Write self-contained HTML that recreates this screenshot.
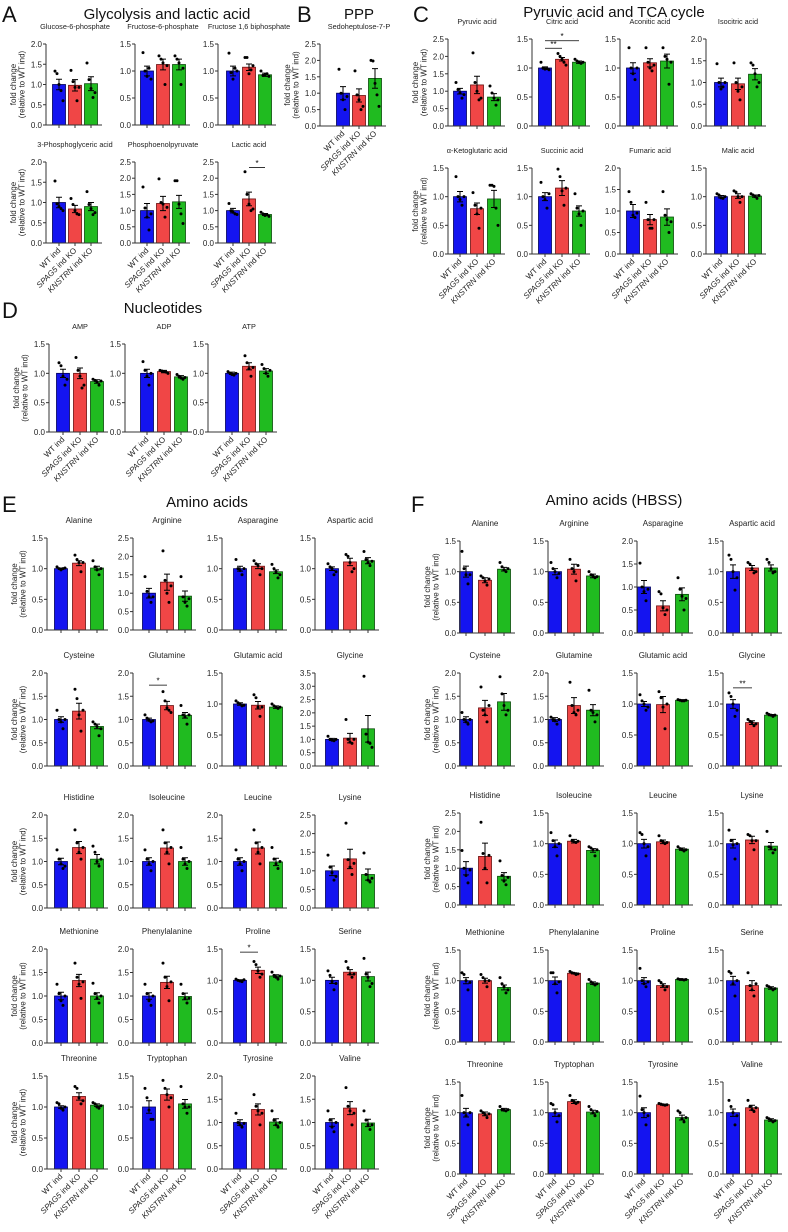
<!DOCTYPE html>
<html><head><meta charset="utf-8">
<style>
html,body{margin:0;padding:0;background:#fff;}
svg{display:block;font-family:"Liberation Sans",Arial,sans-serif;}
</style></head>
<body>
<svg id="fig" width="788" height="1232" viewBox="0 0 788 1232" xmlns="http://www.w3.org/2000/svg">
<g fill="#111">
<text x="2" y="22" font-size="22">A</text>
<text x="167" y="19" font-size="15" text-anchor="middle">Glycolysis and lactic acid</text>
<text x="297" y="22" font-size="22">B</text>
<text x="359" y="19" font-size="15" text-anchor="middle">PPP</text>
<text x="413" y="22" font-size="22">C</text>
<text x="614" y="17" font-size="15" text-anchor="middle">Pyruvic acid and TCA cycle</text>
<text x="2" y="318" font-size="22">D</text>
<text x="163" y="313" font-size="15" text-anchor="middle">Nucleotides</text>
<text x="2" y="512" font-size="22">E</text>
<text x="207" y="507" font-size="15" text-anchor="middle">Amino acids</text>
<text x="411" y="512" font-size="22">F</text>
<text x="614" y="505" font-size="15" text-anchor="middle">Amino acids (HBSS)</text>
</g>
</svg>
<script>
// ---- data ----
const groups = ["WT ind", "SPAG5 ind KO", "KNSTRN ind KO"];
const titles = ["Glucose-6-phosphate","Fructose-6-phosphate","Fructose 1,6 biphosphate","3-Phosphoglyceric acid","Phosphoenolpyruvate","Lactic acid",
"Sedoheptulose-7-P",
"Pyruvic acid","Citric acid","Aconitic acid","Isocitric acid","\u03b1-Ketoglutaric acid","Succinic acid","Fumaric acid","Malic acid",
"AMP","ADP","ATP",
"Alanine","Arginine","Asparagine","Aspartic acid","Cysteine","Glutamine","Glutamic acid","Glycine","Histidine","Isoleucine","Leucine","Lysine","Methionine","Phenylalanine","Proline","Serine","Threonine","Tryptophan","Tyrosine","Valine",
"Alanine","Arginine","Asparagine","Aspartic acid","Cysteine","Glutamine","Glutamic acid","Glycine","Histidine","Isoleucine","Leucine","Lysine","Methionine","Phenylalanine","Proline","Serine","Threonine","Tryptophan","Tyrosine","Valine"];
const yMax = [2,1.5,1.5,2,2.5,2.5, 2.5, 2.5,1.5,1.5,2,1.5,1.5,2,1.5, 1.5,1.5,1.5,
1.5,2.5,1.5,1.5, 2,2,1.5,3.5, 2,2,2,2.5, 2,2,1.5,1.5, 1.5,1.5,2,2,
1.5,1.5,2,1.5, 2,2,1.5,1.5, 2.5,1.5,1.5,1.5, 1.5,1.5,1.5,1.5, 1.5,1.5,1.5,1.5];
const means = [[1,.98,1.02],[1,1.12,1.12],[1,1.07,.93],[1,.84,.9],[1,1.22,1.27],[1,1.36,.88],
[1,.93,1.45],
[1,1.18,.83],[1,1.15,1.1],[1,1.09,1.12],[1,.97,1.19],[1,.79,.96],[1,1.15,.75],[1,.8,.86],[1,1.01,1.01],
[1,1,.86],[1,1.03,.94],[1,1.12,1.04],
[1,1.09,1.01],[1,1.3,.92],[1,1.04,.95],[1,1.11,1.13],[1,1.18,.85],[1,1.3,1.09],[1,.98,.95],[1,1.05,1.4],
[1,1.3,1.05],[1,1.29,1.0],[1,1.29,.99],[1,1.32,.9],[1,1.33,1.0],[1,1.29,.99],[1,1.16,1.07],[1,1.13,1.06],
[1,1.17,1.03],[1,1.2,1.05],[1,1.28,1.01],[1,1.31,.99],
[1,.86,1.04],[1,1.04,.93],[1,.59,.84],[1,1.06,1.06],[1,1.25,1.38],[1,1.3,1.2],[1,.99,1.06],[1,.7,.82],
[1,1.32,.78],[1,1.04,.89],[1,1.03,.91],[1,1.06,.96],[1,1.0,.89],[1,1.12,.96],[1,.92,1.02],[1,.92,.88],
[1,.98,1.05],[1,1.18,1.01],[1,1.13,.92],[1,1.08,.88]];
const sems = [[.13,.14,.17],[.09,.1,.1],[.09,.06,.03],[.13,.09,.1],[.22,.22,.2],[.07,.21,.03],
[.2,.2,.3],
[.08,.25,.1],[.02,.03,.02],[.09,.07,.12],[.1,.13,.13],[.09,.1,.15],[.07,.13,.09],[.15,.12,.19],[.02,.04,.02],
[.07,.09,.03],[.07,.02,.02],[.02,.06,.04],
[.01,.04,.03],[.13,.22,.14],[.04,.04,.03],[.03,.06,.05],[.06,.17,.05],[.03,.09,.06],[.02,.06,.02],[.04,.18,.5],
[.07,.13,.1],[.08,.13,.08],[.08,.13,.08],[.13,.26,.15],[.08,.13,.07],[.07,.13,.07],[.01,.05,.02],[.05,.04,.07],
[.02,.06,.02],[.1,.09,.07],[.06,.12,.07],[.08,.14,.08],
[.09,.04,.03],[.05,.08,.03],[.14,.11,.14],[.11,.04,.05],[.06,.16,.18],[.04,.17,.12],[.04,.13,.01],[.07,.03,.01],
[.18,.36,.1],[.06,.03,.03],[.07,.03,.02],[.07,.06,.06],[.05,.04,.04],[.06,.01,.02],[.05,.03,.01],[.07,.08,.02],
[.07,.03,.02],[.06,.03,.03],[.08,.01,.04],[.06,.04,.02]];
const dots = [
[[1.33,1.27,1.0,.85,.6],[1.35,1.07,.93,.6,.93],[1.53,1.12,.9,.68,.8]],
[[1.34,1.0,.9,1.05,.85],[1.28,1.22,1.15,.75,1.1],[1.28,1.22,1.15,.75,1.05]],
[[1.33,.97,.85,1.05,1.0],[1.25,1.25,.95,1.02,1.1],[1.0,.92,.93,.95,.9]],
[[1.53,.97,.9,.85,.8],[1.1,.95,.8,.72,.7],[1.27,.95,.85,.7,.75]],
[[1.73,1.08,.8,.4,.9],[1.98,1.25,1.2,.8,1.1],[1.92,1.92,1.2,.9,.6]],
[[1.22,1.0,.95,.9,.88],[2.2,1.5,1.2,1.0,1.05],[.95,.9,.85,.87,.82]],
[[1.73,1.0,.8,.5,.9],[1.68,.95,.8,.5,.6],[2.0,1.98,1.3,.95,.6]],
[[1.25,1.05,.95,.8,.9],[2.1,1.25,1.0,.75,.8],[1.15,.95,.8,.6,.75]],
[[1.1,1.0,.98,.99,.97],[1.25,1.2,1.15,1.1,1.05],[1.15,1.12,1.1,1.08,1.1]],
[[1.35,1.0,.9,.8,1.0],[1.35,1.1,1.0,.95,1.05],[1.35,1.2,1.15,.72,1.1]],
[[1.43,1.0,.85,.9,1.0],[1.45,1.0,.8,.6,.9],[1.45,1.4,1.2,.9,1.0]],
[[1.35,1.0,.95,.85,1.0],[1.07,.85,.7,.45,.8],[1.2,1.2,1.18,.8,.5]],
[[1.25,1.0,.95,.8,1.05],[1.48,1.35,1.1,.85,1.15],[1.05,.8,.7,.5,.75]],
[[1.45,1.2,.9,.85,.95],[1.2,.8,.6,.6,.8],[1.45,.9,.8,.5,.75]],
[[1.05,1.03,.98,.97,1.0],[1.1,1.08,1.0,.9,1.0],[1.05,1.03,1.0,.97,1.02]],
[[1.18,1.13,.95,.8,.9],[1.27,1.05,.95,.75,.8],[.9,.88,.85,.8,.87]],
[[1.2,1.05,.95,.8,1.0],[1.05,1.04,1.03,1.02,1.0],[.98,.95,.92,.9,.93]],
[[1.03,1.0,.98,.97,1.0],[1.3,1.18,1.08,.95,1.1],[1.15,1.08,1.0,.95,1.05]],
[[1.03,1.0,.98,1.0,1.01],[1.22,1.15,1.1,.95,1.1],[1.13,1.03,.98,.9,1.0]],
[[1.45,1.05,.9,.75,.9],[2.15,1.35,1.0,.75,1.2],[1.45,.9,.75,.65,.85]],
[[1.15,1.0,.97,.9,1.0],[1.13,1.08,1.05,.9,1.0],[1.07,1.0,.95,.85,.9]],
[[1.08,1.03,1.0,.9,.95],[1.23,1.2,1.1,.95,1.0],[1.28,1.15,1.1,1.05,1.12]],
[[1.2,1.0,.95,.8,1.0],[1.65,1.45,1.1,.75,1.2],[.95,.9,.85,.65,.8]],
[[1.1,1.03,.98,.95,.97],[1.6,1.4,1.25,1.2,1.15],[1.3,1.1,1.05,.9,1.1]],
[[1.05,1.02,1.0,.97,.98],[1.15,1.1,.95,.8,.95],[1.0,.97,.95,.93,.95]],
[[1.12,1.0,.97,.95,1.0],[1.75,1.0,.9,.85,1.0],[3.38,1.2,.9,.85,.7]],
[[1.25,1.05,.95,.85,.9],[1.68,1.4,1.2,1.05,1.3],[1.33,1.2,1.0,.9,1.05]],
[[1.25,1.05,.95,.8,1.0],[1.68,1.4,1.2,.95,1.3],[1.3,1.05,.95,.85,1.0]],
[[1.25,1.05,.95,.8,1.0],[1.68,1.4,1.2,.95,1.3],[1.3,1.05,.95,.85,1.0]],
[[1.42,1.1,.95,.75,.85],[2.28,1.3,1.1,.9,1.2],[1.48,.9,.75,.7,.8]],
[[1.25,1.05,.9,.8,1.0],[1.7,1.4,1.25,.95,1.3],[1.27,1.05,.95,.85,1.0]],
[[1.25,1.05,.9,.8,1.0],[1.7,1.4,1.2,.9,1.3],[1.25,1.05,.95,.85,.95]],
[[1.02,1.0,.99,.98,1.01],[1.3,1.25,1.15,1.05,1.1],[1.13,1.08,1.05,1.02,1.07]],
[[1.15,1.08,.98,.85,.95],[1.3,1.2,1.1,1.05,1.1],[1.35,1.1,1.05,.9,.95]],
[[1.07,1.05,.98,.95,1.0],[1.33,1.3,1.15,1.05,1.1],[1.07,1.05,1.0,.98,1.02]],
[[1.3,1.15,.95,.8,.8],[1.43,1.3,1.2,1.0,1.15],[1.33,1.05,1.0,.9,1.0]],
[[1.2,1.0,.95,.9,.98],[1.6,1.35,1.25,.95,1.2],[1.25,1.05,.95,.9,1.0]],
[[1.25,1.05,.9,.8,1.0],[1.75,1.35,1.25,.95,1.2],[1.25,1.05,.95,.85,.95]],
[[1.33,1.05,.95,.8,.95],[.93,.9,.85,.78,.88],[1.15,1.08,1.03,1.0,1.05]],
[[1.15,1.05,1.0,.9,.97],[1.2,1.05,1.0,.85,1.1],[1.0,.95,.93,.9,.92]],
[[1.52,1.0,.9,.7,.95],[.9,.85,.55,.4,.5],[1.2,.95,.8,.5,.75]],
[[1.27,1.2,1.0,.7,.9],[1.15,1.12,1.05,.98,1.0],[1.2,1.15,1.05,.98,1.0]],
[[1.15,1.0,.95,.9,1.0],[1.7,1.2,1.1,.95,1.3],[1.92,1.55,1.3,1.1,1.2]],
[[1.05,1.0,.97,.9,1.0],[1.8,1.3,1.15,1.1,1.2],[1.63,1.2,1.15,.95,1.1]],
[[1.15,1.05,1.0,.9,.95],[1.2,1.1,.95,.6,1.0],[1.07,1.06,1.05,1.05,1.06]],
[[1.18,1.12,1.0,.8,.9],[.75,.72,.7,.65,.68],[.85,.83,.82,.8,.82]],
[[1.48,1.0,.8,.6,.95],[2.25,1.4,1.0,.6,1.35],[1.2,.8,.65,.55,.75]],
[[1.18,1.05,.95,.8,1.0],[1.13,1.05,1.03,1.02,1.04],[.95,.93,.9,.8,.9]],
[[1.18,1.15,1.0,.8,.95],[1.13,1.05,1.03,1.0,1.02],[.95,.92,.9,.88,.9]],
[[1.22,1.05,.98,.75,1.0],[1.15,1.13,1.05,.9,1.05],[1.2,.95,.93,.85,.9]],
[[1.13,1.1,1.0,.85,.97],[1.1,1.05,1.0,.9,1.0],[1.05,.95,.9,.8,.85]],
[[1.13,1.13,.95,.8,.98],[1.15,1.13,1.12,1.1,1.11],[1.02,.98,.95,.93,.95]],
[[1.2,1.0,.95,.9,.98],[1.0,.97,.92,.85,.9],[1.03,1.02,1.02,1.01,1.02]],
[[1.15,1.12,.95,.75,1.0],[1.13,.92,.85,.75,.95],[.92,.9,.88,.85,.87]],
[[1.28,1.0,.95,.8,1.0],[1.03,1.0,.97,.92,.98],[1.1,1.05,1.04,1.03,1.05]],
[[1.15,1.13,1.0,.85,.95],[1.28,1.2,1.18,1.15,1.17],[1.1,1.05,1.0,.95,1.02]],
[[1.27,1.05,1.0,.8,.95],[1.15,1.14,1.13,1.12,1.13],[1.03,1.0,.9,.85,.92]],
[[1.2,1.1,1.0,.8,.95],[1.2,1.1,1.05,1.02,1.08],[.92,.9,.88,.85,.87]]];
// significance
const sigPanels = [5,8,8,23,32,45];
const sigFrom = [1,0,0,0,0,0];
const sigTo = [2,1,2,1,1,1];
const sigLevel = [2.33,1.34,1.47,1.74,1.45,1.26];
const sigLabel = ["*","**","*","*","*","**"];

// ---- layout (positions only) ----
const L = [];
function addRow(axes, firsts, sp, top, zero, xl, fs){ for(let i=0;i<axes.length;i++) L.push({ax:axes[i], bx:firsts[i], sp:sp, top:top, zero:zero, xl:xl, yt:i===0, fs:fs}); }
addRow([46,135,218],[59,147,233],16,44,125,false,7.3);
addRow([46,135,218],[59,147,233],16,162,243,true,7.3);
addRow([320],[343],16,44,126,true,7.3);
addRow([448,532,620,706],[460,545,633,721],17,39,126,false,7.3);
addRow([448,532,620,706],[460,545,633,721],17,168,254,true,7.3);
addRow([49,125,208],[63,147,232],17,344,432,true,7.3);
const eAx=[47,133,222,315], eB=[61,149,240,332];
[[538,630],[673,766],[815,908],[949,1043],[1076,1169]].forEach((r,k)=>addRow(eAx,eB,18,r[0],r[1],k===4,8));
const fAx=[460,548,637,723], fB=[466,555,644,733];
[[541,633],[673,766],[813,905],[950,1042],[1082,1174]].forEach((r,k)=>addRow(fAx,fB,19,r[0],r[1],k===4,8));

const NS="http://www.w3.org/2000/svg";
const svg=document.getElementById('fig');
const fills=["#1414f0","#f04646","#20bb20"];
const strokes=["#00005a","#6a1010","#0b4a0b"];
const jit=[-4,-2,0,2,4];
function el(tag,attrs,parent){const e=document.createElementNS(NS,tag);for(const k in attrs)e.setAttribute(k,attrs[k]);(parent||svg).appendChild(e);return e;}

titles.forEach((t,p)=>{
  const lay=L[p]; const mx=yMax[p];
  const ys=v=>lay.zero-(v/mx)*(lay.zero-lay.top);
  const bxs=[0,1,2].map(i=>lay.bx+i*lay.sp);
  const g=el('g',{});
  
  
  const tt=el('text',{x:bxs[1],y:lay.top-15,'font-size':lay.fs,'text-anchor':'middle',fill:'#222'},g);
  tt.textContent=t;
  
  
  for(let i=0;i<3;i++){
    const m=means[p][i], e=sems[p][i];
    const r=el('rect',{x:bxs[i]-6.5,y:ys(m),width:13,height:lay.zero-ys(m),fill:fills[i],stroke:strokes[i],'stroke-width':0.8},g);
    
    
    const eb=el('path',{d:`M${bxs[i]},${ys(m-e)}V${ys(m+e)}M${bxs[i]-3},${ys(m+e)}H${bxs[i]+3}M${bxs[i]-3},${ys(m-e)}H${bxs[i]+3}`,stroke:'#000','stroke-width':1,fill:'none'},g);
    
    
    dots[p][i].forEach((v,k)=>{
      const c=el('circle',{cx:bxs[i]+jit[k],cy:ys(v),r:1.5,fill:'#000'},g);
      
      
    });
  }
  const xEnd=bxs[2]+11;
  const ax=el('path',{d:`M${lay.ax},${lay.top}V${lay.zero}H${xEnd}`,stroke:'#333','stroke-width':1,fill:'none'},g);
  
  
  const nT=Math.round(mx/0.5);
  for(let k=0;k<=nT;k++){
    const v=k*0.5, y=ys(v);
    el('path',{d:`M${lay.ax-3},${y}H${lay.ax}`,stroke:'#333','stroke-width':1},g);
    const tl=el('text',{x:lay.ax-4,y:y+3,'font-size':8,'text-anchor':'end',fill:'#222'},g);
    tl.textContent=v.toFixed(1);
    
    
  }
  bxs.forEach(x=>el('path',{d:`M${x},${lay.zero}V${lay.zero+3}`,stroke:'#333','stroke-width':1},g));
  if(lay.yt){
    const cy=(lay.top+lay.zero)/2;
    const yt=el('text',{transform:`translate(${lay.ax-30},${cy}) rotate(-90)`,'font-size':8,'text-anchor':'middle',fill:'#222'},g);
    
    
    const a=el('tspan',{x:0,y:0},yt); a.textContent='fold change';
    const b=el('tspan',{x:0,y:8.5},yt); b.textContent='(relative to WT ind)';
  }
  if(lay.xl){
    bxs.forEach((x,i)=>{
      const xt=el('text',{transform:`translate(${x+2},${lay.zero+8}) rotate(-45)`,'font-size':8,'text-anchor':'end',fill:'#222'},g);
      
      
      const parts=groups[i].split(' ');
      if(i===0){xt.textContent=groups[i];}
      else{const s1=el('tspan',{'font-style':'italic'},xt);s1.textContent=parts[0];const s2=el('tspan',{},xt);s2.textContent=' '+parts.slice(1).join(' ');}
    });
  }
});
sigPanels.forEach((p,k)=>{
  const lay=L[p], mx=yMax[p];
  const y=lay.zero-(sigLevel[k]/mx)*(lay.zero-lay.top);
  const x1=lay.bx+sigFrom[k]*lay.sp, x2=lay.bx+sigTo[k]*lay.sp;
  const ln=el('path',{d:`M${x1},${y}H${x2}`,stroke:'#000','stroke-width':0.8});
  
  
  const st=el('text',{x:(x1+x2)/2,y:y-1.5,'font-size':8,'text-anchor':'middle',fill:'#000'});
  st.textContent=sigLabel[k];
  
  
});
</script>
</body></html>
